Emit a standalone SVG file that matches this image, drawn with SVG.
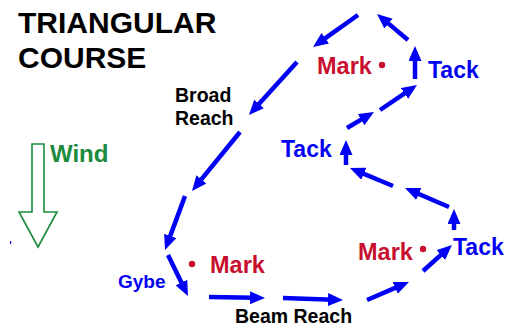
<svg xmlns="http://www.w3.org/2000/svg" width="520" height="326" viewBox="0 0 520 326">
<defs>
<marker id="ah" markerUnits="userSpaceOnUse" markerWidth="15" markerHeight="13" refX="5" refY="6.5" orient="auto" viewBox="0 0 15 13">
<path d="M0,0 L15,6.5 L0,13 z" fill="#0000f5"/>
</marker>
</defs>
<style>
text{font-family:"Liberation Sans",Arial,sans-serif;font-weight:bold}
.title{font-size:30px;fill:#000}
.blk{font-size:19.5px;fill:#000}
.blue{fill:#0000f5}
.red{font-size:23.5px;fill:#c8102e}
.conn line{stroke:#0000f5;stroke-width:4.5;marker-end:url(#ah)}
</style>
<rect width="520" height="326" fill="#fff"/>
<g id="title">
<text class="title" x="18" y="33">TRIANGULAR</text>
<text class="title" x="18" y="68">COURSE</text>
</g>
<g id="wind">
<path d="M32,144 H44 V212 H57 L38,247 L19,212 H32 Z" fill="none" stroke="#1b8a3c" stroke-width="1.6" stroke-linejoin="miter"/>
<text x="50" y="162" style="font-size:24px;fill:#1b8a3c">Wind</text>
</g>
<rect x="10" y="241" width="1.2" height="3" fill="#0000f5"/>
<g id="broad-reach"><text class="blk" x="175" y="102">Broad</text><text class="blk" x="175" y="125">Reach</text></g>
<g id="beam-reach"><text class="blk" x="235" y="323">Beam Reach</text></g>
<g id="gybe"><text class="blue" x="118" y="288" style="font-size:19px">Gybe</text></g>
<g id="mark-top"><text class="red" x="317" y="74">Mark</text><circle cx="382" cy="65" r="3.2" fill="#c8102e"/></g>
<g id="mark-left"><text class="red" x="210" y="273">Mark</text><circle cx="192" cy="264" r="3.2" fill="#c8102e"/></g>
<g id="mark-right"><text class="red" x="358" y="260">Mark</text><circle cx="423" cy="249" r="3.2" fill="#c8102e"/></g>
<g id="tack-top"><text class="blue" x="428" y="78" style="font-size:23px">Tack</text></g>
<g id="tack-mid"><text class="blue" x="281" y="157" style="font-size:23px">Tack</text></g>
<g id="tack-bottom"><text class="blue" x="453" y="255" style="font-size:23px">Tack</text></g>
<g id="connectors" class="conn">
<line x1="358" y1="15" x2="321.2" y2="41.2"/>
<line x1="408" y1="40" x2="384.7" y2="20.4"/>
<line x1="415" y1="79" x2="415" y2="56"/>
<line x1="380" y1="110" x2="408.7" y2="90.6"/>
<line x1="347" y1="128" x2="365.4" y2="117.1"/>
<line x1="346" y1="165" x2="346" y2="150"/>
<line x1="393" y1="186" x2="359.2" y2="171.9"/>
<line x1="449" y1="207" x2="414.2" y2="192"/>
<line x1="454" y1="230" x2="454" y2="219"/>
<line x1="423" y1="271" x2="444.5" y2="251.7"/>
<line x1="367" y1="300" x2="399.8" y2="285.9"/>
<line x1="283" y1="298" x2="333" y2="299.7"/>
<line x1="209" y1="297" x2="255" y2="297.8"/>
<line x1="168" y1="255" x2="183.6" y2="287"/>
<line x1="185" y1="196" x2="168.5" y2="240.6"/>
<line x1="240" y1="132" x2="198.3" y2="183.2"/>
<line x1="297" y1="62" x2="255.7" y2="107.6"/>
</g>
</svg>
